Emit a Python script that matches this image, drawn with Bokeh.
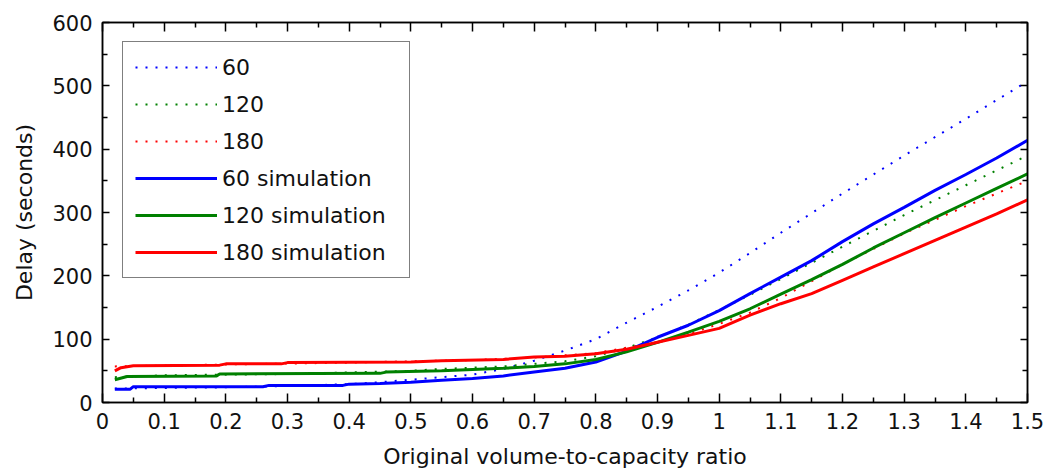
from bokeh.plotting import figure
from bokeh.models import Range1d, FixedTicker, Legend, LinearAxis, CustomLabelingPolicy
from bokeh.embed import file_html
from bokeh.resources import INLINE

# ---- data ----
x_tick_values = [0, 0.1, 0.2, 0.3, 0.4, 0.5, 0.6, 0.7, 0.8, 0.9, 1.0, 1.1, 1.2, 1.3, 1.4, 1.5]
x_tick_labels = ["0", "0.1", "0.2", "0.3", "0.4", "0.5", "0.6", "0.7", "0.8", "0.9",
                 "1", "1.1", "1.2", "1.3", "1.4", "1.5"]
x_minor_ticks = [0.05, 0.15, 0.25, 0.35, 0.45, 0.55, 0.65, 0.75, 0.85, 0.95,
                 1.05, 1.15, 1.25, 1.35, 1.45]
y_tick_values = [0, 100, 200, 300, 400, 500, 600]
y_minor_ticks = [50, 150, 250, 350, 450, 550]
x_min, x_max = 0, 1.5
y_min, y_max = 0, 600

# theoretical (dotted) curves
x_th60 = [0.02, 0.1, 0.2, 0.3, 0.4, 0.45, 0.5, 0.55, 0.6, 0.65, 0.7, 0.75, 0.8, 0.85, 0.9,
          0.95, 1.0, 1.05, 1.1, 1.15, 1.2, 1.3, 1.4, 1.5]
y_th60 = [22, 23, 24, 26, 29, 32, 36, 40, 44, 53, 66, 82, 100, 126, 151,
          177, 205, 236, 268, 299, 330, 390, 448, 507]

x_th120 = [0.02, 0.1, 0.3, 0.5, 0.55, 0.6, 0.65, 0.7, 0.75, 0.8, 0.85, 0.9, 0.95, 1.0,
           1.05, 1.1, 1.2, 1.3, 1.4, 1.5]
y_th120 = [40, 43, 45, 50, 53, 55, 57, 61, 65, 73, 86, 103, 123, 146,
           170, 195, 246, 296, 343, 390]

x_th180 = [0.02, 0.2, 0.4, 0.6, 0.7, 0.8, 0.9, 0.95, 1.0, 1.05, 1.1, 1.2, 1.3, 1.4, 1.5]
y_th180 = [57, 60, 63, 67, 71, 78, 95, 108, 124, 142, 165, 218, 267, 310, 350]

# simulation (solid) curves
x_sim60 = [0.02, 0.045, 0.05, 0.26, 0.27, 0.39, 0.40, 0.45, 0.5, 0.55, 0.6, 0.65, 0.7, 0.75,
           0.8, 0.85, 0.9, 0.95, 1.0, 1.05, 1.1, 1.15, 1.2, 1.25, 1.3, 1.35, 1.4, 1.45, 1.5]
y_sim60 = [21, 21, 25, 25, 27, 27, 29, 30, 32, 35, 38, 42, 48, 54,
           64, 81, 103, 122, 145, 172, 198, 224, 254, 282, 308, 335, 360, 386, 414]

x_sim120 = [0.02, 0.04, 0.185, 0.19, 0.45, 0.46, 0.55, 0.6, 0.65, 0.7, 0.75, 0.8, 0.85, 0.9,
            0.95, 1.0, 1.05, 1.1, 1.15, 1.2, 1.25, 1.3, 1.35, 1.4, 1.45, 1.5]
y_sim120 = [36, 41, 42, 45, 46, 48, 50, 52, 54, 57, 61, 68, 80, 95,
            111, 128, 148, 171, 194, 218, 244, 268, 292, 315, 338, 361]

x_sim180 = [0.02, 0.03, 0.05, 0.19, 0.2, 0.29, 0.3, 0.5, 0.55, 0.65, 0.7, 0.75, 0.8, 0.85,
            0.9, 0.95, 1.0, 1.05, 1.1, 1.15, 1.2, 1.25, 1.3, 1.35, 1.4, 1.45, 1.5]
y_sim180 = [50, 55, 58, 59, 61, 61, 63, 64, 66, 68, 72, 73, 77, 84,
            95, 106, 117, 138, 156, 172, 193, 214, 235, 256, 277, 298, 320]

series_labels = ["60", "120", "180", "60 simulation", "120 simulation", "180 simulation"]

# ---- figure ----
FONT = "DejaVu Sans"
TXT = "#111111"
p = figure(width=1046, height=474, output_backend="svg", toolbar_location=None,
           x_range=Range1d(x_min, x_max), y_range=Range1d(y_min, y_max),
           min_border_left=102, min_border_right=19, min_border_top=22, min_border_bottom=72,
           background_fill_color="white", border_fill_color="white")
p.xgrid.visible = False
p.ygrid.visible = False
p.outline_line_color = "black"
p.outline_line_width = 1.5

def style_axis(ax, major_in, minor_in, labels=True):
    ax.axis_line_color = "black"
    ax.axis_line_width = 1.5
    ax.major_tick_line_color = "black"
    ax.major_tick_line_width = 1.5
    ax.minor_tick_line_color = "black"
    ax.minor_tick_line_width = 1.5
    ax.major_tick_in = major_in
    ax.major_tick_out = 0
    ax.minor_tick_in = minor_in
    ax.minor_tick_out = 0
    ax.major_label_text_font = FONT
    ax.major_label_text_color = TXT
    if labels:
        ax.major_label_text_font_size = "21px"
        ax.major_label_standoff = 10
    else:
        # box edge only: ticks but no labels (labels filtered out, never drawn)
        ax.major_label_text_font_size = "1px"
        ax.major_label_standoff = 0
        ax.major_label_policy = CustomLabelingPolicy(
            code="return new indices.constructor(indices.size)")
    ax.axis_label_text_font = FONT
    ax.axis_label_text_font_size = "22px"
    ax.axis_label_text_font_style = "normal"
    ax.axis_label_text_color = TXT
    ax.axis_label_standoff = 12

xa = p.xaxis[0]
xa.ticker = FixedTicker(ticks=x_tick_values, minor_ticks=x_minor_ticks)
xa.major_label_overrides = {v: s for v, s in zip(x_tick_values, x_tick_labels)}
xa.axis_label = "Original volume-to-capacity ratio"
style_axis(xa, 9, 5)

ya = p.yaxis[0]
ya.ticker = FixedTicker(ticks=y_tick_values, minor_ticks=y_minor_ticks)
ya.axis_label = "Delay (seconds)"
style_axis(ya, 7, 5)

top_ax = LinearAxis(ticker=FixedTicker(ticks=x_tick_values, minor_ticks=x_minor_ticks))
style_axis(top_ax, 9, 5, labels=False)
p.add_layout(top_ax, "above")
right_ax = LinearAxis(ticker=FixedTicker(ticks=y_tick_values, minor_ticks=y_minor_ticks))
style_axis(right_ax, 7, 5, labels=False)
p.add_layout(right_ax, "right")

BLUE, GREEN, RED = "#0000ff", "#008000", "#ff0000"
DOT = "2 8"

r1 = p.line(x_th60, y_th60, line_color=BLUE, line_width=2, line_dash=DOT)
r2 = p.line(x_th120, y_th120, line_color=GREEN, line_width=2, line_dash=DOT)
r3 = p.line(x_th180, y_th180, line_color=RED, line_width=2, line_dash=DOT)
r4 = p.line(x_sim60, y_sim60, line_color=BLUE, line_width=3)
r5 = p.line(x_sim120, y_sim120, line_color=GREEN, line_width=3)
r6 = p.line(x_sim180, y_sim180, line_color=RED, line_width=3)

legend = Legend(items=[(lbl, [r]) for lbl, r in zip(series_labels, [r1, r2, r3, r4, r5, r6])],
                location=(20, 124))
legend.label_text_font = FONT
legend.label_text_font_size = "22px"
legend.label_text_color = TXT
legend.glyph_width = 82
legend.glyph_height = 26
legend.label_height = 26
legend.label_width = 175
legend.label_standoff = 5
legend.spacing = 11
legend.padding = 12
legend.margin = 0
legend.border_line_color = "black"
legend.border_line_width = 1.5
legend.background_fill_color = "white"
legend.background_fill_alpha = 1.0
p.add_layout(legend, "center")

open("out.html", "w").write(file_html(p, INLINE))
